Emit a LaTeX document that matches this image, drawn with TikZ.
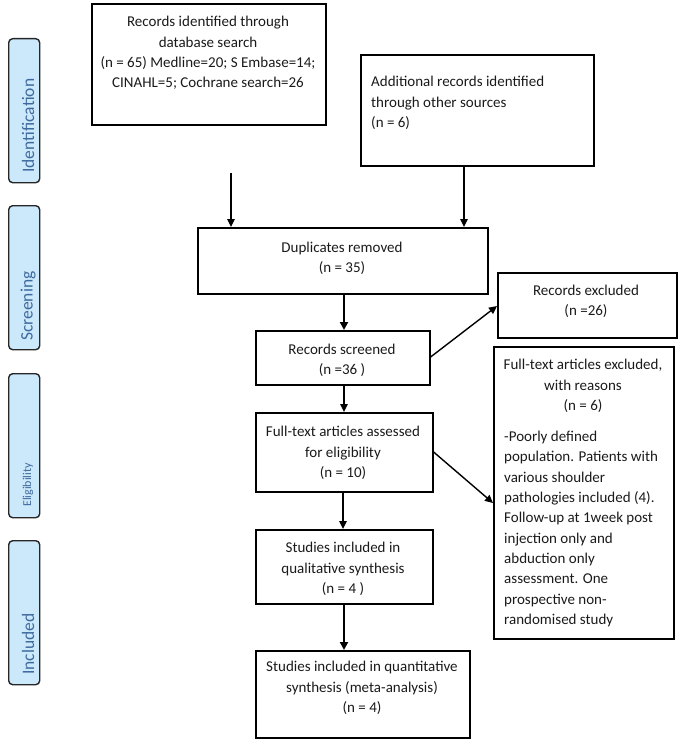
\documentclass[tikz,border=0pt]{standalone}
\usepackage{fontspec}
\setmainfont{Carlito}
\usetikzlibrary{arrows.meta}
\definecolor{phasefill}{HTML}{CCE8FB}
\definecolor{phasetext}{HTML}{3F6A9E}
\definecolor{bodytext}{HTML}{1A1A1A}
\tikzset{
  box/.style={draw=black, line width=1.6pt, inner sep=0pt, anchor=north west},
  txt/.style={align=center, inner sep=0pt, text=bodytext, font=\fontsize{15}{20.3}\selectfont},
  ltxt/.style={align=left, inner sep=0pt, text=bodytext, font=\fontsize{15}{20.3}\selectfont},
  phase/.style={draw=black!85, fill=phasefill, rounded corners=4pt, line width=1.4pt, inner sep=0pt, anchor=north west, minimum width=31pt, minimum height=144pt},
  phasetxt/.style={rotate=90, anchor=west, inner sep=0pt, text=phasetext},
  arr/.style={line width=1.4pt, -{Triangle[length=8pt,width=7.5pt]}},
  tarr/.style={line width=2.2pt, -{Triangle[length=8pt,width=8pt]}}
}
\begin{document}
\begin{tikzpicture}[x=1pt,y=-1pt]
\useasboundingbox (0,0) rectangle (679,749);
% phase bars
\node[phase] (pid) at (8,38) {};
\node[phasetxt, font=\fontsize{17.5}{17.5}\selectfont] (tid) at (28,173) {Identification};
\node[phase] (psc) at (8,205) {};
\node[phasetxt, font=\fontsize{17.5}{17.5}\selectfont] (tsc) at (28,341) {Screening};
\node[phase] (pel) at (8,373) {};
\node[phasetxt, font=\fontsize{12}{12}\selectfont] (tel) at (28,507) {Eligibility};
\node[phase] (pin) at (8,540) {};
\node[phasetxt, font=\fontsize{17.5}{17.5}\selectfont] (tin) at (28,675) {Included};
% boxes
\node[box, minimum width=234pt, minimum height=121pt] (b1) at (91,3) {};
\node[txt] (t1) at (208,53) {Records identified through\\database search\\(n = 65) Medline=20; S Embase=14;\\CINAHL=5; Cochrane search=26};
\node[box, minimum width=233pt, minimum height=111pt] (b2) at (360,54) {};
\node[ltxt, anchor=west] (t2) at (371,103) {Additional records identified\\through other sources\\(n = 6)};
\node[box, minimum width=290pt, minimum height=66pt] (dup) at (197,227) {};
\node[txt] (tdup) at (342,258) {Duplicates removed\\(n = 35)};
\node[box, minimum width=174pt, minimum height=54pt] (scr) at (255,330) {};
\node[txt] (tscr) at (342,360) {Records screened\\(n =36 )};
\node[box, minimum width=179pt, minimum height=65pt] (exc) at (497,272) {};
\node[txt] (texc) at (586,301) {Records excluded\\(n =26)};
\node[box, minimum width=180pt, minimum height=292pt] (fex) at (493,346) {};
\node[txt] (tfex) at (583,386) {Full-text articles excluded,\\with reasons\\(n = 6)};
\node[ltxt, anchor=north west] (tfex2) at (504,431) {-Poorly defined\\population. Patients with\\various shoulder\\pathologies included (4).\\Follow-up at 1week post\\injection only and\\abduction only\\assessment. One\\prospective non-\\randomised study};
\node[box, minimum width=177pt, minimum height=79pt] (ass) at (255,412) {};
\node[txt] (tass) at (343,453) {Full-text articles assessed\\for eligibility\\(n = 10)};
\node[box, minimum width=177pt, minimum height=74pt] (qual) at (255,529) {};
\node[txt] (tqual) at (343,569) {Studies included in\\qualitative synthesis\\(n = 4 )};
\node[box, minimum width=214pt, minimum height=87pt] (quan) at (255,650) {};
\node[txt] (tquan) at (362,688) {Studies included in quantitative\\synthesis (meta-analysis)\\(n = 4)};
% connectors
\coordinate (s1) at (231,173);
\draw[arr] (s1) -- (231,227);
\draw[arr] (b2.south -| 464,0) -- (464,227);
\draw[tarr] (344,293) -- (344,330);
\draw[arr] (scr.east |- 0,357) -- (exc.west |- 0,306);
\draw[arr] (344,384) -- (344,412);
\draw[arr] (ass.east |- 0,452) -- (fex.west |- 0,503);
\draw[arr] (343,491) -- (343,529);
\draw[tarr] (344,603) -- (344,650);
\end{tikzpicture}
\end{document}
